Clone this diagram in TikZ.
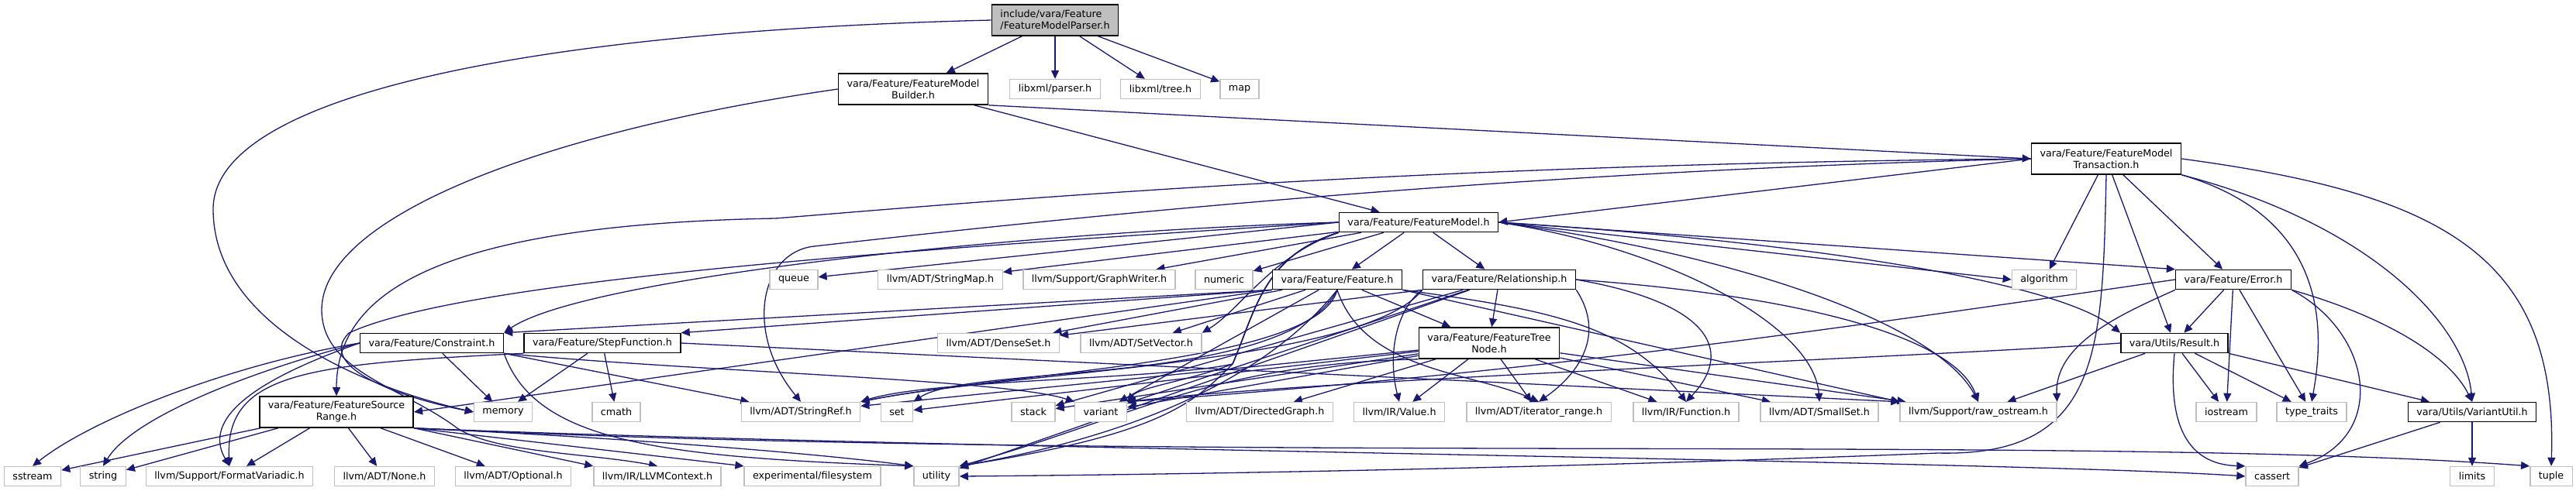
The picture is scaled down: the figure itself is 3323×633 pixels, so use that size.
\documentclass[tikz,border=0pt]{standalone}
\usepackage{fontspec}
\setmainfont{DejaVu Sans}
\usepackage{xcolor}
\usepackage{tikz}
\usetikzlibrary{arrows.meta, backgrounds}
\definecolor{edgeblue}{RGB}{25, 25, 112}
\definecolor{extgray}{RGB}{191, 191, 191}

\begin{document}
\begin{tikzpicture}[
          x=1pt, y=-1pt,
          header/.style={rectangle, draw=black, line width=1.6pt, fill=white, font=\fontsize{12.7}{15}\selectfont, inner xsep=11pt, inner ysep=0pt, minimum height=25pt, align=center},
          twoline/.style={header, minimum height=40pt},
          system/.style={header, draw=extgray, line width=1.4pt},
          mainfile/.style={twoline, fill=extgray, align=left},
          dep/.style={draw=edgeblue, line width=1.3pt, -{Triangle[length=11pt, width=10pt]}}
        ]
          \useasboundingbox (0, 0) rectangle (3323, 633);

          % Parsed file
          \node[mainfile] (parser) at (1361, 26) {include/vara/Feature\\/FeatureModelParser.h};

          % First level
          \node[twoline] (builder) at (1178, 115) {vara/Feature/FeatureModel\\Builder.h};
          \node[system] (xmlparser) at (1361, 115) {libxml/parser.h};
          \node[system] (xmltree) at (1497, 115) {libxml/tree.h};
          \node[system] (map) at (1599, 115) {map};

          \node[twoline] (transaction) at (2717, 205) {vara/Feature/FeatureModel\\Transaction.h};
          \node[header] (fm) at (1830, 287) {vara/Feature/FeatureModel.h};

          % Below the model
          \node[system] (queue) at (1024, 361) {queue};
          \node[system] (stringmap) at (1213, 361) {llvm/ADT/StringMap.h};
          \node[system] (graphwriter) at (1418, 361) {llvm/Support/GraphWriter.h};
          \node[system] (numeric) at (1579, 361) {numeric};
          \node[header] (feature) at (1725, 361) {vara/Feature/Feature.h};
          \node[header] (relationship) at (1934, 361) {vara/Feature/Relationship.h};
          \node[system] (algorithm) at (2637, 361) {algorithm};
          \node[header] (error) at (2881, 361) {vara/Feature/Error.h};

          \node[header] (constraint) at (557, 443) {vara/Feature/Constraint.h};
          \node[header] (stepfunction) at (777, 443) {vara/Feature/StepFunction.h};
          \node[system] (denseset) at (1288, 443) {llvm/ADT/DenseSet.h};
          \node[system] (setvector) at (1472, 443) {llvm/ADT/SetVector.h};
          \node[twoline] (treenode) at (1921, 443) {vara/Feature/FeatureTree\\Node.h};
          \node[header] (result) at (2805, 443) {vara/Utils/Result.h};

          \node[twoline] (fsr) at (434, 532) {vara/Feature/FeatureSource\\Range.h};
          \node[system] (memory) at (649, 532) {memory};
          \node[system] (cmath) at (795, 532) {cmath};
          \node[system] (stringref) at (1033, 532) {llvm/ADT/StringRef.h};
          \node[system] (set) at (1157, 532) {set};
          \node[system] (stack) at (1333, 532) {stack};
          \node[system] (variant) at (1420, 532) {variant};
          \node[system] (directedgraph) at (1625, 532) {llvm/ADT/DirectedGraph.h};
          \node[system] (value) at (1805, 532) {llvm/IR/Value.h};
          \node[system] (iterrange) at (1985, 532) {llvm/ADT/iterator\_range.h};
          \node[system] (function) at (2175, 532) {llvm/IR/Function.h};
          \node[system] (smallset) at (2347, 532) {llvm/ADT/SmallSet.h};
          \node[system] (rawostream) at (2552, 532) {llvm/Support/raw\_ostream.h};
          \node[system] (iostream) at (2872, 532) {iostream};
          \node[system] (typetraits) at (2982, 532) {type\_traits};
          \node[header] (variantutil) at (3189, 532) {vara/Utils/VariantUtil.h};

          % Bottom row
          \node[system] (sstream) at (42, 615) {sstream};
          \node[system] (string) at (133, 615) {string};
          \node[system] (formatvariadic) at (296, 615) {llvm/Support/FormatVariadic.h};
          \node[system] (none) at (496, 615) {llvm/ADT/None.h};
          \node[system] (optional) at (662, 615) {llvm/ADT/Optional.h};
          \node[system] (llvmcontext) at (848, 615) {llvm/IR/LLVMContext.h};
          \node[system] (filesystem) at (1048, 615) {experimental/filesystem};
          \node[system] (utility) at (1208, 615) {utility};
          \node[system] (cassert) at (2931, 615) {cassert};
          \node[system] (limits) at (3189, 615) {limits};
          \node[system] (tuple) at (3291, 615) {tuple};

          % Connections
          \begin{scope}[on background layer]
          % parser
          \draw[dep] (parser) -- (builder);
          \draw[dep] (parser) -- (xmlparser);
          \draw[dep] (parser) -- (xmltree);
          \draw[dep] (parser) -- (map);
          \draw[dep] (parser.west) .. controls (700, 40) and (275, 120) .. (275, 270) .. controls (275, 420) and (470, 500) .. (memory.west);

          % builder
          \draw[dep] (builder) -- (fm);
          \draw[dep] (builder.south east) -- (transaction.west);
          \draw[dep] (builder.west) .. controls (700, 170) and (415, 280) .. (415, 400) .. controls (415, 480) and (520, 500) .. (590, 553) .. controls (640, 585) and (760, 585) .. (llvmcontext.north);

          % transaction
          \draw[dep] (transaction.west) -- (fm.east);
          \draw[dep] (transaction) -- (algorithm);
          \draw[dep] (transaction) -- (result);
          \draw[dep] (transaction) -- (error);
          \draw[dep] (transaction.south east) .. controls (3000, 280) and (3000, 420) .. (typetraits.north);
          \draw[dep] (transaction.south east) .. controls (3060, 290) and (3180, 420) .. (variantutil.north);
          \draw[dep] (transaction.east) .. controls (3150, 250) and (3300, 330) .. (tuple.north);
          \draw[dep] (transaction.south) .. controls (2712, 450) and (2712, 590) .. (2500, 585) .. controls (2000, 605) and (1500, 613) .. (utility.east);
          \draw[dep] (transaction.west) .. controls (1800, 212) and (1250, 262) .. (1000, 282) .. controls (560, 290) and (434, 380) .. (fsr.north);
          \draw[dep] (transaction.west) .. controls (1900, 222) and (1300, 290) .. (1050, 318) .. controls (980, 326) and (960, 430) .. (stringref.north);

          % model
          \draw[dep] (fm.west) -- (queue);
          \draw[dep] (fm) -- (stringmap);
          \draw[dep] (fm) -- (graphwriter);
          \draw[dep] (fm) -- (numeric);
          \draw[dep] (fm) -- (feature);
          \draw[dep] (fm) -- (relationship);
          \draw[dep] (fm.east) -- (algorithm.west);
          \draw[dep] (fm.east) -- (error.north west);
          \draw[dep] (fm.east) .. controls (2300, 310) and (2650, 360) .. (result.north west);
          \draw[dep] (fm.west) .. controls (1300, 300) and (750, 360) .. (constraint.north east);
          \draw[dep] (fm.west) .. controls (1200, 320) and (600, 360) .. (450, 430) .. controls (410, 470) and (500, 510) .. (memory.west);
          \draw[dep] (fm.south west) .. controls (1640, 330) and (1600, 400) .. (setvector.north east);
          \draw[dep] (fm.south west) .. controls (1630, 330) and (1620, 400) .. (1590, 470) .. controls (1500, 490) and (1200, 490) .. (stringref.north east);
          \draw[dep] (fm.south west) .. controls (1630, 330) and (1620, 400) .. (1590, 470) .. controls (1540, 490) and (1470, 500) .. (variant.north east);
          \draw[dep] (fm.south west) .. controls (1630, 330) and (1620, 400) .. (1590, 470) .. controls (1540, 520) and (1500, 560) .. (utility.north east);
          \draw[dep] (fm.east) .. controls (2150, 320) and (2340, 420) .. (smallset.north);
          \draw[dep] (fm.east) .. controls (2250, 330) and (2500, 420) .. (rawostream.north);

          % feature
          \draw[dep] (feature.south west) -- (constraint.north east);
          \draw[dep] (feature.south west) -- (stepfunction.north east);
          \draw[dep] (feature.south west) -- (fsr.east);
          \draw[dep] (feature) -- (treenode);
          \draw[dep] (feature) -- (denseset);
          \draw[dep] (feature) -- (setvector);
          \draw[dep] (feature.south) .. controls (1700, 470) and (1300, 480) .. (stringref.north east);
          \draw[dep] (feature.south) .. controls (1660, 500) and (1250, 470) .. (set.north east);
          \draw[dep] (feature) -- (variant);
          \draw[dep] (feature.south) .. controls (1640, 480) and (1480, 560) .. (utility.north east);
          \draw[dep] (feature.south east) -- (rawostream.north west);
          \draw[dep] (feature.south east) .. controls (2000, 400) and (2100, 420) .. (function.north);
          \draw[dep] (feature.south) .. controls (1760, 480) and (1900, 480) .. (iterrange.north);

          % relationship
          \draw[dep] (relationship) -- (treenode);
          \draw[dep] (relationship.south west) -- (denseset);
          \draw[dep] (relationship.south west) .. controls (1760, 470) and (1300, 480) .. (stringref.north east);
          \draw[dep] (relationship.south west) .. controls (1800, 400) and (1790, 460) .. (value.north);
          \draw[dep] (relationship.south east) .. controls (2070, 430) and (2040, 480) .. (iterrange.north);
          \draw[dep] (relationship.east) .. controls (2200, 390) and (2240, 450) .. (function.north);
          \draw[dep] (relationship.east) .. controls (2300, 380) and (2520, 430) .. (rawostream.north);
          \draw[dep] (relationship) -- (variant);
          \draw[dep] (relationship) -- (stack);
          \draw[dep] (relationship) -- (utility);

          % tree node
          \draw[dep] (treenode) -- (directedgraph);
          \draw[dep] (treenode) -- (value);
          \draw[dep] (treenode) -- (iterrange);
          \draw[dep] (treenode) -- (function);
          \draw[dep] (treenode) -- (smallset);
          \draw[dep] (treenode) -- (rawostream);
          \draw[dep] (treenode) -- (stringref);
          \draw[dep] (treenode) -- (set);
          \draw[dep] (treenode) -- (stack);
          \draw[dep] (treenode) -- (variant);
          \draw[dep] (treenode.south west) .. controls (1560, 470) and (1460, 540) .. (utility.north east);

          % constraint and step function
          \draw[dep] (constraint.west) .. controls (300, 470) and (120, 540) .. (sstream.north);
          \draw[dep] (constraint.west) .. controls (320, 480) and (170, 540) .. (string.north);
          \draw[dep] (constraint.west) .. controls (330, 490) and (260, 540) .. (formatvariadic.north);
          \draw[dep] (constraint) -- (memory);
          \draw[dep] (constraint.south east) -- (stringref);
          \draw[dep] (constraint.south east) .. controls (900, 480) and (1300, 490) .. (variant.north west);
          \draw[dep] (constraint.south east) .. controls (690, 570) and (850, 590) .. (utility.north west);
          \draw[dep] (stepfunction) -- (memory);
          \draw[dep] (stepfunction) -- (cmath);
          \draw[dep] (stepfunction.south west) .. controls (400, 470) and (290, 480) .. (formatvariadic.north);
          \draw[dep] (stepfunction.east) -- (rawostream.north west);

          % source range
          \draw[dep] (fsr) -- (sstream);
          \draw[dep] (fsr) -- (string);
          \draw[dep] (fsr) -- (formatvariadic);
          \draw[dep] (fsr) -- (none);
          \draw[dep] (fsr) -- (optional);
          \draw[dep] (fsr.south east) -- (llvmcontext.north west);
          \draw[dep] (fsr.south east) -- (filesystem.north west);
          \draw[dep] (fsr.south east) .. controls (800, 565) and (1050, 585) .. (utility.north west);
          \draw[dep] (fsr.south east) .. controls (1200, 580) and (2600, 595) .. (cassert.west);
          \draw[dep] (fsr.south east) .. controls (1500, 600) and (2700, 560) .. (tuple.north west);

          % error and result
          \draw[dep] (error) -- (result);
          \draw[dep] (error.west) .. controls (2400, 420) and (2000, 480) .. (variant.north east);
          \draw[dep] (error.south west) .. controls (2750, 400) and (2650, 440) .. (rawostream.north east);
          \draw[dep] (error) -- (iostream);
          \draw[dep] (error) -- (typetraits);
          \draw[dep] (error.south east) .. controls (3060, 430) and (3080, 560) .. (cassert.north east);
          \draw[dep] (error.south east) .. controls (3080, 410) and (3160, 460) .. (variantutil.north);
          \draw[dep] (result.west) .. controls (2500, 460) and (1700, 490) .. (variant.north east);
          \draw[dep] (result) -- (rawostream);
          \draw[dep] (result) -- (iostream);
          \draw[dep] (result) -- (typetraits);
          \draw[dep] (result.south east) -- (variantutil);
          \draw[dep] (result.south) .. controls (2795, 560) and (2830, 600) .. (cassert.north west);

          % variant util
          \draw[dep] (variantutil) -- (cassert);
          \draw[dep] (variantutil) -- (limits);
          \end{scope}
        \end{tikzpicture}
\end{document}
